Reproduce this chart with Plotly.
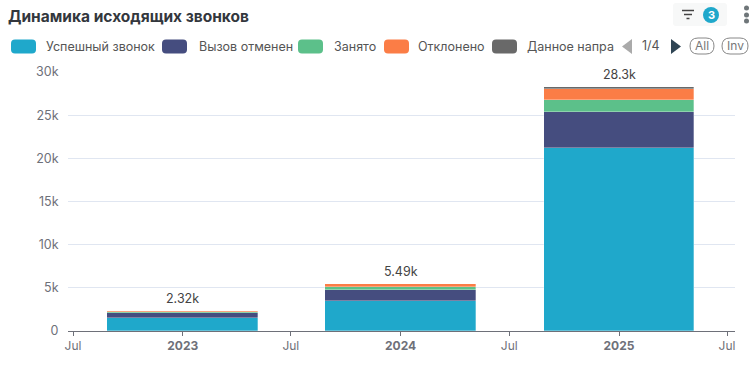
import datetime as dt
import plotly.graph_objects as go

W, H = 756, 370
L, R, T, B = 68, 735, 72, 331

years = ["2023-01-01", "2024-01-01", "2025-01-01"]
series_names = ["Успешный звонок", "Вызов отменен", "Занято", "Отклонено", "Данное направление"]
series_colors = ["#1fa8cb", "#454d7f", "#5cc08a", "#fb7d46", "#696969"]
success = [1480, 3470, 21200]
cancelled = [570, 1290, 4200]
busy = [150, 380, 1400]
rejected = [100, 310, 1250]
other = [20, 40, 250]
series_values = [success, cancelled, busy, rejected, other]
totals = [2320, 5490, 28300]
total_labels = ["2.32k", "5.49k", "28.3k"]
x_ticks = ["2022-07-01", "2023-01-01", "2023-07-01", "2024-01-01", "2024-07-01", "2025-01-01", "2025-07-01"]
x_labels = ["Jul", "<b>2023</b>", "Jul", "<b>2024</b>", "Jul", "<b>2025</b>", "Jul"]
y_ticks = [0, 5000, 10000, 15000, 20000, 25000, 30000]
y_labels = ["0", "5k", "10k", "15k", "20k", "25k", "30k"]
legend_swatch_x = [11, 162, 298, 384, 492]
legend_text_x = [44, 197, 332, 416, 525]
legend_labels = ["Успешный звонок", "Вызов отменен", "Занято", "Отклонено", "Данное напра"]

FONT = "Inter, Noto Sans, sans-serif"
BAR_MS = 252.5 * 86400000

def xp(x):
    return (x - L) / (R - L)
def yp(y):
    return (B - y) / (B - T)

fig = go.Figure()
for name, color, vals in zip(series_names, series_colors, series_values):
    fig.add_bar(x=years, y=vals, name=name, width=BAR_MS,
                marker=dict(color=color, line=dict(width=0.3, color="#ffffff")), showlegend=False)

shapes = []
ann = []
def rr(x0, y0, x1, y1, r, fill=None, line=None, lw=1):
    p = (f"M{xp(x0+r)},{yp(y0)} L{xp(x1-r)},{yp(y0)} Q{xp(x1)},{yp(y0)} {xp(x1)},{yp(y0+r)} "
         f"L{xp(x1)},{yp(y1-r)} Q{xp(x1)},{yp(y1)} {xp(x1-r)},{yp(y1)} L{xp(x0+r)},{yp(y1)} "
         f"Q{xp(x0)},{yp(y1)} {xp(x0)},{yp(y1-r)} L{xp(x0)},{yp(y0+r)} Q{xp(x0)},{yp(y0)} {xp(x0+r)},{yp(y0)} Z")
    shapes.append(dict(type="path", xref="paper", yref="paper", path=p, fillcolor=fill or "rgba(0,0,0,0)",
                       line=dict(color=line or "rgba(0,0,0,0)", width=lw if line else 0), layer="above"))
def tri(pts, fill):
    p = "M" + " L".join(f"{xp(a)},{yp(b)}" for a, b in pts) + " Z"
    shapes.append(dict(type="path", xref="paper", yref="paper", path=p, fillcolor=fill, line=dict(width=0), layer="above"))
def text(x, y, s, size=12, color="#555555", anchor="left", family=FONT):
    ann.append(dict(xref="paper", yref="paper", x=xp(x), y=yp(y), text=s, showarrow=False, xanchor=anchor, yanchor="middle",
                    font=dict(size=size, color=color, family=family)))

for yr, tot, lab in zip(years, totals, total_labels):
    ann.append(dict(xref="x", yref="y", x=yr, y=tot, text=lab, showarrow=False, xanchor="center", yanchor="bottom",
                    yshift=3, font=dict(size=12.5, color="#444444", family=FONT)))

text(6, 16, "<b>Динамика исходящих звонков</b>", size=15.5, color="#33373d")
for sx, tx, lab, col in zip(legend_swatch_x, legend_text_x, legend_labels, series_colors):
    rr(sx, 39.5, sx + 25, 53.5, 4, fill=col)
    text(tx, 46.5, lab, size=12.5, color="#555555")
tri([(632, 39), (632, 54), (622, 46.5)], "#aaaaaa")
text(651, 46, "1/4", size=12.5, color="#555555", anchor="center")
tri([(671, 39), (671, 54), (681, 46.5)], "#2f4554")
rr(690, 38, 714, 54, 8, line="#888888", lw=1)
text(702, 46, "All", size=12, color="#777777", anchor="center")
rr(722, 38, 748, 54, 8, line="#888888", lw=1)
text(735, 46, "Inv", size=12, color="#777777", anchor="center")
rr(673, 3, 727, 26, 3, fill="#f7f8f8")
for x0, x1, y in [(682, 694, 10.5), (684, 692, 14.5), (686.5, 689.5, 18.5)]:
    shapes.append(dict(type="line", xref="paper", yref="paper", x0=xp(x0), x1=xp(x1), y0=yp(y), y1=yp(y),
                       line=dict(color="#444444", width=1.5), layer="above"))
shapes.append(dict(type="circle", xref="paper", yref="paper", x0=xp(703), x1=xp(719), y0=yp(7), y1=yp(23),
                   fillcolor="#1fa8cb", line=dict(width=0), layer="above"))
text(711, 15, "<b>3</b>", size=11, color="#ffffff", anchor="center")
for y in [8, 15, 21]:
    shapes.append(dict(type="circle", xref="paper", yref="paper", x0=xp(744), x1=xp(749), y0=yp(y-2.5), y1=yp(y+2.5),
                       fillcolor="#6f7679", line=dict(width=0), layer="above"))

days_per_px = 365 / 218
x0 = dt.datetime(2022, 7, 1) - dt.timedelta(days=5 * days_per_px)
x1 = dt.datetime(2025, 7, 1) + dt.timedelta(days=8 * days_per_px)

fig.update_layout(
    width=W, height=H, autosize=False, barmode="stack", bargap=0,
    margin=dict(l=L, r=W - R, t=T, b=H - B, pad=0),
    paper_bgcolor="#ffffff", plot_bgcolor="#ffffff",
    font=dict(family=FONT, size=12, color="#6e7079"),
    shapes=shapes, annotations=ann,
    xaxis=dict(type="date", range=[x0, x1], tickmode="array", tickvals=x_ticks, ticktext=x_labels,
               showgrid=False, zeroline=False, showline=True, linecolor="#6e7079", linewidth=1,
               ticks="outside", ticklen=4, tickcolor="#6e7079", tickfont=dict(size=12, color="#6e7079", family=FONT)),
    yaxis=dict(range=[0, 30000], tickmode="array", tickvals=y_ticks, ticktext=y_labels,
               showgrid=True, gridcolor="#e0e6f1", gridwidth=1, zeroline=False, showline=False,
               ticks="outside", ticklen=6, tickcolor="rgba(0,0,0,0)", tickfont=dict(size=12.5, color="#6e7079", family=FONT)),
)
fig.write_html("out.html", config=dict(displayModeBar=False),
               post_script="document.body.style.margin='0';document.documentElement.style.overflow='hidden';")
